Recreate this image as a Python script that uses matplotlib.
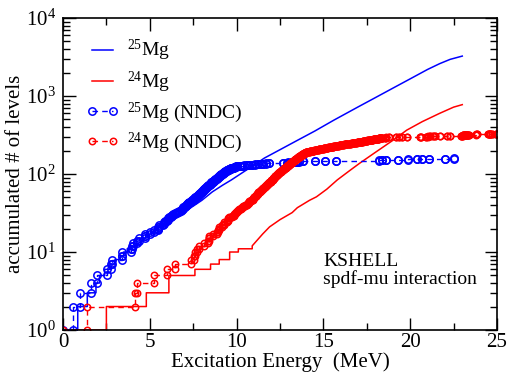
import matplotlib
matplotlib.use("Agg")
import matplotlib.pyplot as plt
from matplotlib.ticker import MultipleLocator, LogLocator, NullFormatter
import numpy as np

plt.rcParams['font.family'] = 'Liberation Serif'
plt.rcParams['mathtext.fontset'] = 'custom'
plt.rcParams['mathtext.rm'] = 'Liberation Serif'
plt.rcParams['mathtext.it'] = 'Liberation Serif:italic'

# KSHELL 25Mg: lowest levels (MeV) as steps, then the dense cumulative curve
mg25_sm_levels = [0.0, 0.85, 1.4, 1.9, 2.1, 2.4, 2.7, 3.0, 3.3, 3.5, 3.7]
mg25_sm_curve_E = [4.2, 4.7, 5.2, 5.8, 6.6, 7.2, 8.0, 8.6, 9.2, 9.7, 10.5, 11.0, 11.6,
                   12.5, 13.5, 14.5, 15.6, 17.0, 18.0, 19.0, 20.0, 21.0, 21.7, 22.3, 23.0]
mg25_sm_curve_N = [12, 15, 18, 23, 30, 35, 46, 59, 72, 84, 110, 130, 160,
                   205, 270, 355, 490, 725, 955, 1260, 1660, 2190, 2600, 2950, 3250]

# KSHELL 24Mg
mg24_sm_levels = [0.0, 2.5, 4.8, 6.1, 6.1, 7.6, 8.5, 9.0, 9.6, 9.6, 10.1, 10.9]
mg24_sm_curve_E = [11.5, 11.9, 12.5, 13.2, 13.5, 14.2, 14.6, 15.2, 15.8, 16.5, 17.1,
                   18.0, 19.0, 19.8, 20.7, 21.7, 22.5, 23.0]
mg24_sm_curve_N = [17, 21, 26, 32, 37, 46, 51, 64, 84, 110, 138,
                   190, 270, 365, 470, 600, 720, 775]

# NNDC 25Mg level energies (MeV)
mg25_nndc = [
    0.0, 0.585, 0.975, 1.612, 1.965, 2.564, 2.738, 2.801, 3.405, 3.414, 3.907, 3.971,
    4.060, 4.277, 4.359, 4.711, 4.722, 5.012, 5.251, 5.461, 5.474, 5.533, 5.746, 5.794,
    5.859, 5.971,
    6.04, 6.08, 6.22, 6.26, 6.36, 6.44, 6.58, 6.69, 6.79, 6.84, 6.89, 6.94,
    7.03, 7.08, 7.13, 7.20, 7.22, 7.26, 7.35, 7.41, 7.45, 7.52, 7.56, 7.60, 7.65,
    7.70, 7.74, 7.78, 7.82, 7.86, 7.90, 7.96, 7.99,
    8.01, 8.05, 8.06, 8.11, 8.14, 8.15, 8.20, 8.23, 8.26, 8.27, 8.32, 8.35, 8.38, 8.39,
    8.44, 8.47, 8.50, 8.53, 8.54, 8.59, 8.62, 8.63, 8.68, 8.71, 8.74, 8.77, 8.78, 8.82,
    8.85, 8.86, 8.90, 8.92, 8.95, 8.97, 8.99,
    9.02, 9.03, 9.05, 9.09, 9.12, 9.14, 9.16, 9.19, 9.21, 9.24, 9.27, 9.29, 9.31, 9.35,
    9.38, 9.41, 9.43, 9.46, 9.50, 9.53, 9.55, 9.58, 9.62, 9.66, 9.70, 9.74, 9.79, 9.83,
    9.88, 9.92, 9.97,
    10.05, 10.17, 10.30, 10.42, 10.58, 10.71, 10.88,
    11.05, 11.22, 11.40, 11.55, 11.70, 11.88,
    12.70, 12.88, 12.95, 13.22, 13.40, 13.50, 13.62, 13.80,
    14.50, 15.10, 15.70, 18.20, 18.40, 18.60, 19.30, 19.90, 20.40, 20.70, 21.10,
    22.00, 22.50,
]

# NNDC 24Mg level energies (MeV)
mg24_nndc = [
    0.0, 1.369, 4.123, 4.238, 5.236, 6.010, 6.432,
    7.349, 7.553, 7.616, 7.747, 7.812,
    8.113, 8.358, 8.437, 8.439, 8.654, 8.864, 8.95, 8.99,
    9.003, 9.146, 9.284, 9.300, 9.457, 9.516, 9.528, 9.59, 9.71, 9.828, 9.86, 9.92, 9.967,
    10.03, 10.06, 10.16, 10.24, 10.33, 10.36, 10.48, 10.58, 10.66, 10.68, 10.71, 10.73,
    10.82, 10.86, 10.92, 10.96, 10.99,
    11.02, 11.05, 11.09, 11.13, 11.16, 11.19, 11.23, 11.26, 11.30, 11.32, 11.36, 11.39,
    11.42, 11.46, 11.48, 11.52, 11.55, 11.58, 11.62, 11.64, 11.68, 11.71, 11.73, 11.77,
    11.80, 11.83, 11.86, 11.88, 11.91, 11.94, 11.96, 11.99,
    12.01, 12.03, 12.05, 12.07, 12.09, 12.12, 12.14, 12.16, 12.18, 12.20, 12.22, 12.24,
    12.26, 12.29, 12.31, 12.33, 12.35, 12.37, 12.39, 12.41, 12.43, 12.45, 12.47, 12.50,
    12.52, 12.54, 12.56, 12.58, 12.60, 12.62, 12.64, 12.66, 12.68, 12.71, 12.73, 12.75,
    12.77, 12.79, 12.81, 12.83, 12.85, 12.87, 12.89, 12.91, 12.93, 12.95, 12.97, 12.99,
    13.01, 13.02, 13.04, 13.05, 13.07, 13.09, 13.10, 13.12, 13.14, 13.15,
    13.17, 13.19, 13.20, 13.22, 13.24, 13.25, 13.27, 13.29, 13.30, 13.32,
    13.34, 13.35, 13.37, 13.39, 13.40, 13.42, 13.44, 13.45, 13.47, 13.49,
    13.50, 13.52, 13.54, 13.55, 13.57, 13.59, 13.60, 13.62, 13.64, 13.65,
    13.67, 13.69, 13.70, 13.72, 13.74, 13.75, 13.77, 13.79, 13.80, 13.82,
    13.84, 13.85, 13.87, 13.89, 13.90, 13.92, 13.94, 13.95, 13.97, 13.99,
    14.03, 14.07, 14.12, 14.16, 14.20, 14.25, 14.29, 14.33, 14.38, 14.42, 14.47, 14.51,
    14.55, 14.60, 14.64, 14.68, 14.73, 14.77, 14.82, 14.86, 14.91, 14.96,
    15.02, 15.06, 15.10, 15.15, 15.19, 15.23, 15.28, 15.32, 15.36, 15.41, 15.45, 15.49,
    15.54, 15.58, 15.62, 15.67, 15.71, 15.75, 15.80, 15.84, 15.88, 15.93, 15.97,
    16.03, 16.08, 16.13, 16.18, 16.23, 16.28, 16.33, 16.38, 16.43, 16.48, 16.53, 16.58,
    16.63, 16.68, 16.73, 16.78, 16.83, 16.88, 16.93, 16.98,
    17.02, 17.06, 17.10, 17.14, 17.18, 17.22, 17.26, 17.30, 17.34, 17.38, 17.42, 17.46,
    17.50, 17.54, 17.58, 17.62, 17.66, 17.70, 17.74, 17.78, 17.82, 17.86, 17.90, 17.94,
    17.98,
    18.03, 18.06, 18.09, 18.12, 18.15, 18.18, 18.21, 18.24, 18.28, 18.31, 18.35, 18.39,
    18.55, 18.62, 18.80, 19.20, 19.35, 19.50, 19.80, 20.55, 20.65, 20.90, 21.00, 21.15,
    21.30, 21.45, 21.70, 22.10, 22.30, 22.90, 22.98, 23.03, 23.07, 23.10, 23.14, 23.18,
    23.22, 23.26, 23.30, 23.35, 23.40, 23.80, 23.85, 24.50, 24.55, 24.58, 24.62, 24.70,
    24.95, 25.00,
]

labels = [r'$^{25}$Mg', r'$^{24}$Mg', r'$^{25}$Mg (NNDC)', r'$^{24}$Mg (NNDC)']


def cumulative_steps(levels):
    e = np.asarray(levels, dtype=float)
    n = np.arange(1, len(e) + 1)
    return np.repeat(e, 2)[1:], np.repeat(n, 2)[:-1]


def shell_curve(levels, curve_e, curve_n):
    xs, ys = cumulative_steps(levels)
    return np.concatenate([xs, curve_e]), np.concatenate([ys, curve_n])


fig = plt.figure(figsize=(5.10, 3.76), dpi=100)
ax = fig.add_axes([0.1235, 0.1223, 0.851, 0.8298])

x, y = shell_curve(mg25_sm_levels, mg25_sm_curve_E, mg25_sm_curve_N)
ax.plot(x, y, color='#0000ff', lw=1.1, label=labels[0])
x, y = shell_curve(mg24_sm_levels, mg24_sm_curve_E, mg24_sm_curve_N)
ax.plot(x, y, color='#ff0000', lw=1.1, label=labels[1])

x, y = cumulative_steps(mg25_nndc)
ax.plot(x, y, color='#0000ff', lw=1.0, dashes=(4, 3), marker='o', ms=5.3,
        mfc='none', mew=1.1, label=labels[2])
x, y = cumulative_steps(mg24_nndc)
ax.plot(x, y, color='#ff0000', lw=1.0, dashes=(4, 3), marker='o', ms=4.6,
        mfc='none', mew=1.1, label=labels[3])

ax.set_yscale('log')
ax.set_xlim(0, 25)
ax.set_ylim(1, 1e4)
ax.xaxis.set_major_locator(MultipleLocator(5))
ax.xaxis.set_minor_locator(MultipleLocator(2.5))
ax.yaxis.set_minor_locator(LogLocator(base=10, subs=np.arange(2, 10)))
ax.yaxis.set_minor_formatter(NullFormatter())
ax.tick_params(which='both', direction='in', top=True, right=True, labelsize=15, width=1)
ax.tick_params(axis='x', pad=2)
ax.tick_params(axis='y', pad=5)
ax.tick_params(which='major', length=9)
ax.tick_params(which='minor', length=5)
for s in ax.spines.values():
    s.set_linewidth(1.2)

ax.set_xlabel('Excitation Energy  (MeV)', fontsize=15, labelpad=0)
ax.set_ylabel('accumulated # of levels', fontsize=15, labelpad=1)

ax.text(15.0, 9.6, 'KSHELL\nspdf-mu interaction', fontsize=14, va='top', ha='left',
        linespacing=1.0)

ax.legend(loc='upper left', bbox_to_anchor=(0.035, 0.96), frameon=False, fontsize=14,
          numpoints=2, handlelength=1.7, handletextpad=0.4, labelspacing=0.3,
          borderaxespad=0)

fig.savefig('out.png', dpi=100)
